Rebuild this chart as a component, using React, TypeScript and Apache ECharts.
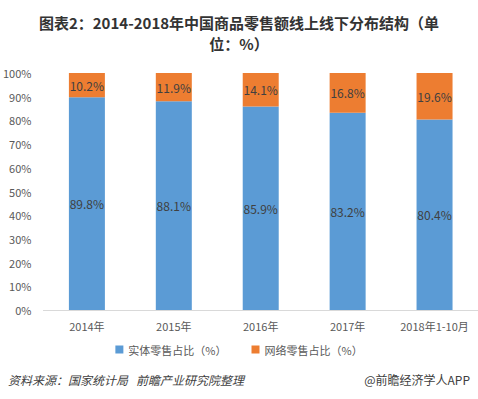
import React, { useEffect, useRef } from "react";
import * as echarts from "echarts";

const categories = ["2014年", "2015年", "2016年", "2017年", "2018年1-10月"];
const offlineShare = [89.8, 88.1, 85.9, 83.2, 80.4];
const onlineShare = [10.2, 11.9, 14.1, 16.8, 19.6];
const seriesNames = ["实体零售占比（%）", "网络零售占比（%）"];

const FONT = "'Noto Sans CJK SC', 'Noto Sans', sans-serif";

export default function App() {
  const ref = useRef<HTMLDivElement>(null);
  useEffect(() => {
    if (!ref.current) return;
    const chart = echarts.init(ref.current, undefined, { renderer: "svg" });
    const label = {
      show: true,
      position: "inside" as const,
      color: "#404040",
      fontSize: 12,
      fontFamily: FONT,
      formatter: (p: any) => `${p.value}%`,
    };
    chart.setOption({
      animation: false,
      backgroundColor: "#ffffff",
      textStyle: { fontFamily: FONT },
      grid: { left: 40, right: 0, top: 73, bottom: 89 },
      legend: {
        data: seriesNames,
        bottom: 39,
        left: "center",
        itemWidth: 8,
        itemHeight: 8,
        itemGap: 25,
        icon: "rect",
        textStyle: { color: "#595959", fontSize: 11, fontFamily: FONT },
      },
      xAxis: {
        type: "category",
        data: categories,
        axisLine: { lineStyle: { color: "#d9d9d9" } },
        axisTick: { show: false },
        axisLabel: { color: "#595959", fontSize: 11, margin: 10, interval: 0, fontFamily: FONT },
      },
      yAxis: {
        type: "value",
        min: 0,
        max: 100,
        interval: 10,
        axisLine: { show: false },
        axisTick: { show: false },
        splitLine: { show: false },
        axisLabel: {
          color: "#595959",
          fontSize: 11,
          margin: 12,
          fontFamily: FONT,
          formatter: "{value}%",
        },
      },
      series: [
        {
          name: seriesNames[0],
          type: "bar",
          stack: "total",
          data: offlineShare,
          barWidth: 36,
          itemStyle: { color: "#5b9bd5" },
          label,
        },
        {
          name: seriesNames[1],
          type: "bar",
          stack: "total",
          data: onlineShare,
          barWidth: 36,
          itemStyle: { color: "#ed7d31" },
          label,
        },
      ],
      graphic: [
        {
          type: "text",
          x: 239,
          y: 12,
          style: {
            text: "图表2：2014-2018年中国商品零售额线上线下分布结构（单\n位：%）",
            fill: "#333333",
            fontSize: 15,
            fontWeight: "bold",
            fontFamily: FONT,
            lineHeight: 21,
            align: "center",
            verticalAlign: "top",
          },
        },
        {
          type: "text",
          left: 8,
          top: 373,
          style: {
            text: "资料来源：国家统计局   前瞻产业研究院整理",
            fill: "#404040",
            fontSize: 12,
            fontStyle: "italic",
            fontFamily: FONT,
          },
        },
        {
          type: "text",
          right: 8,
          top: 373,
          style: {
            text: "@前瞻经济学人APP",
            fill: "#404040",
            fontSize: 12,
            fontFamily: FONT,
          },
        },
      ],
    });
    return () => chart.dispose();
  }, []);
  return (
    <div
      ref={ref}
      style={{ position: "fixed", left: 0, top: 0, width: 478, height: 399 }}
    />
  );
}
